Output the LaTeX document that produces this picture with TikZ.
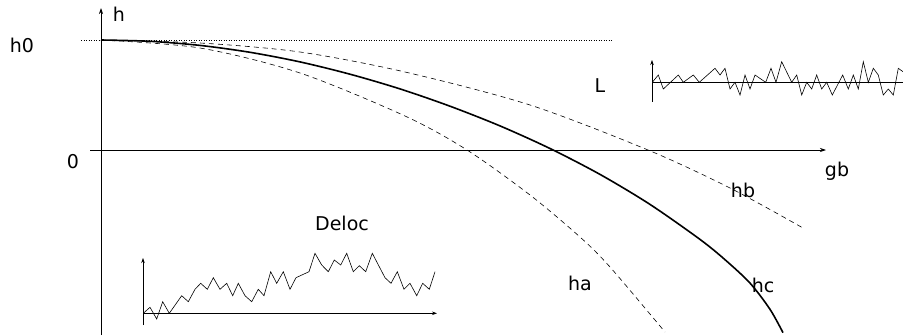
\documentclass[tikz,border=0pt]{standalone}
\usepackage{fontspec}
\setmainfont{DejaVu Sans}
\usetikzlibrary{arrows.meta}

\begin{document}
\begin{tikzpicture}[
        x=1pt, y=-1pt,
        font=\fontsize{19}{22}\selectfont,
        lbl/.style={inner sep=0pt},
        axis/.style={-{Stealth[length=6pt,width=4pt]}, line width=0.7pt},
        smallaxis/.style={-{Stealth[length=5pt,width=3.5pt]}, line width=0.6pt},
        critical/.style={line width=1.6pt},
        bound/.style={line width=0.6pt, dash pattern=on 5pt off 4pt},
        noise/.style={line width=0.6pt, line join=miter}
    ]
    \useasboundingbox (0,0) rectangle (903,335);
    % main axes
    \coordinate (ybot) at (101,335);
    \coordinate (ytop) at (101,8);
    \coordinate (xleft) at (90,150);
    \coordinate (xright) at (826,150);
    \coordinate (hzl) at (81,40);
    \coordinate (hzr) at (613,40);
    \draw[axis] (ybot) -- (ytop);
    \draw[axis] (xleft) -- (xright);
    \draw[line width=0.5pt, dotted] (hzl) -- (hzr);
    \node[lbl] (hname) at (119,14) {h};
    \node[lbl] (hzero) at (22,45) {h0};
    \node[lbl] (zero) at (73,162) {0};
    \node[lbl] (gbname) at (837,171) {gb};
    % curves
    \draw[critical] plot[smooth] coordinates {(101,40) (150,41.3) (200,45.4) (250,52.3) (300,61.9) (350,74.2) (400,88.9) (450,106.2) (500,125.9) (550,148.5) (600,174.4) (650,204.4) (700,239.4) (725,259.7) (750,283.1) (770,309.3) (783,332.7)};
    \draw[bound] plot[smooth] coordinates {(101,40) (200,43) (300,52) (405,72) (530,105) (648,150) (730,188) (803,228)};
    \draw[bound] plot[smooth] coordinates {(101,40) (200,48) (300,73) (405,116) (467,150) (530,195) (580,237) (610,267) (665,332)};
    \node[lbl] (haname) at (580,283) {ha};
    \node[lbl] (hbname) at (743,190) {hb};
    \node[lbl] (hcname) at (763,285) {hc};
    \node[lbl] (lname) at (600,86) {L};
    \node[lbl] (delocname) at (342,223) {Deloc};
    % localized inset
    \coordinate (lyb) at (652,101.7);
    \coordinate (lyt) at (652,60);
    \coordinate (lxl) at (652,82.3);
    \coordinate (lxr) at (903,82.3);
    \draw[smallaxis] (lyb) -- (lyt);
    \draw[line width=0.6pt] (lxl) -- (lxr);
    \draw[noise] plot coordinates {(652.3,82.3) (658.3,75) (663.3,89) (678.3,75) (683.3,82.3) (693.3,75) (699.3,82.3) (715,68.3) (720,75) (725,68.3) (730,89) (735,82.3) (740,95) (745,75) (750,89) (755,75) (765.7,82.3) (771,68.3) (776,82.3) (781.7,61.7) (791.7,82.3) (796.7,75) (801.7,95) (806.7,82.3) (811.7,89) (816.7,75) (821.7,89) (826.7,82.3) (832.3,95) (842.7,75) (848.3,89) (853.3,75) (858.3,89) (863.3,61.7) (868.3,82.3) (873.3,68.3) (878.3,75) (883.3,95) (888.3,89) (893.3,95) (898.3,68.3) (903,71.7)};
    % delocalized inset
    \coordinate (dyb) at (143,325);
    \coordinate (dyt) at (143,258);
    \coordinate (dxl) at (143,313.3);
    \coordinate (dxr) at (437,313.3);
    \draw[smallaxis] (dyb) -- (dyt);
    \draw[smallaxis] (dxl) -- (dxr);
    \draw[noise] plot coordinates {(143.3,313.3) (150,307.3) (156.7,319) (162.7,301.7) (169.3,313.3) (181.7,295.7) (188.3,301.7) (195,289.3) (200.7,283.3) (207.3,289.3) (213.3,277.7) (220,289.3) (226.7,283.3) (232.7,295.7) (238.3,283.3) (245,295.7) (251.7,301.7) (258.3,289.3) (264,295.7) (270.7,271.7) (276.7,283.3) (283.3,271.7) (290,289.3) (296,277.7) (309,271.7) (315,253.3) (321.7,265) (328.3,271.7) (334.3,260) (340.7,265) (346.7,253.3) (353.3,271.7) (359.3,265.7) (365.7,271.7) (372.3,253.3) (385,277.7) (391,283.3) (397.3,271.7) (404,289.3) (410,283.3) (416.7,295.7) (422.7,283.3) (429.3,289.3) (435,271.7)};
\end{tikzpicture}
\end{document}
